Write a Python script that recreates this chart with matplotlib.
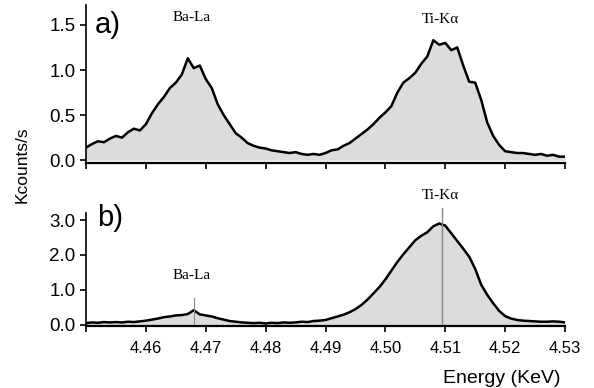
import numpy as np
import matplotlib
matplotlib.use("Agg")
import matplotlib.pyplot as plt

plt.rcParams["font.family"] = ["Liberation Sans", "DejaVu Sans"]

# energy grid (KeV)
energy = [4.450, 4.451, 4.452, 4.453, 4.454, 4.455, 4.456, 4.457, 4.458, 4.459,
          4.460, 4.461, 4.462, 4.463, 4.464, 4.465, 4.466, 4.467, 4.468, 4.469,
          4.470, 4.471, 4.472, 4.473, 4.474, 4.475, 4.476, 4.477, 4.478, 4.479,
          4.480, 4.481, 4.482, 4.483, 4.484, 4.485, 4.486, 4.487, 4.488, 4.489,
          4.490, 4.491, 4.492, 4.493, 4.494, 4.495, 4.496, 4.497, 4.498, 4.499,
          4.500, 4.501, 4.502, 4.503, 4.504, 4.505, 4.506, 4.507, 4.508, 4.509,
          4.510, 4.511, 4.512, 4.513, 4.514, 4.515, 4.516, 4.517, 4.518, 4.519,
          4.520, 4.521, 4.522, 4.523, 4.524, 4.525, 4.526, 4.527, 4.528, 4.529,
          4.530]

# panel a) counts (Kcounts/s)
counts_a = [0.14, 0.18, 0.21, 0.20, 0.24, 0.27, 0.25, 0.31, 0.35, 0.33,
            0.40, 0.52, 0.62, 0.70, 0.80, 0.86, 0.95, 1.13, 1.02, 1.05,
            0.90, 0.80, 0.62, 0.50, 0.40, 0.30, 0.25, 0.19, 0.16, 0.14,
            0.13, 0.11, 0.10, 0.09, 0.08, 0.09, 0.07, 0.06, 0.07, 0.06,
            0.08, 0.11, 0.12, 0.16, 0.19, 0.24, 0.29, 0.34, 0.40, 0.47,
            0.53, 0.60, 0.75, 0.86, 0.91, 0.97, 1.07, 1.15, 1.33, 1.28,
            1.30, 1.22, 1.25, 1.05, 0.87, 0.86, 0.67, 0.42, 0.27, 0.17,
            0.10, 0.09, 0.08, 0.08, 0.07, 0.06, 0.07, 0.05, 0.06, 0.04,
            0.04]

# panel b) counts (Kcounts/s)
counts_b = [0.05, 0.07, 0.06, 0.08, 0.07, 0.08, 0.07, 0.09, 0.08, 0.10,
            0.12, 0.15, 0.18, 0.22, 0.24, 0.27, 0.28, 0.31, 0.42, 0.30,
            0.27, 0.24, 0.19, 0.15, 0.11, 0.09, 0.07, 0.06, 0.05, 0.06,
            0.04, 0.06, 0.05, 0.07, 0.06, 0.07, 0.09, 0.08, 0.11, 0.12,
            0.14, 0.19, 0.24, 0.29, 0.36, 0.45, 0.57, 0.72, 0.90, 1.08,
            1.30, 1.55, 1.80, 2.02, 2.22, 2.42, 2.55, 2.65, 2.82, 2.90,
            2.84, 2.62, 2.40, 2.18, 1.95, 1.60, 1.15, 0.86, 0.62, 0.40,
            0.25, 0.18, 0.14, 0.12, 0.11, 0.10, 0.09, 0.09, 0.10, 0.09,
            0.07]

ba_line = 4.468
ti_line = 4.5095
xticks = [4.45, 4.46, 4.47, 4.48, 4.49, 4.50, 4.51, 4.52, 4.53]

fig = plt.figure(figsize=(5.94, 3.88), dpi=100)
ax1 = fig.add_axes([0.1448, 0.580, 0.8064, 0.407])
ax2 = fig.add_axes([0.1448, 0.160, 0.8064, 0.291])

for ax, y in [(ax1, counts_a), (ax2, counts_b)]:
    ax.fill_between(energy, y, 0, color="#dcdcdc", lw=0)
    ax.plot(energy, y, color="black", lw=1.8)
    ax.spines["top"].set_visible(False)
    ax.spines["right"].set_visible(False)
    ax.spines["left"].set_linewidth(1.2)
    ax.spines["bottom"].set_linewidth(1.6)
    ax.set_xlim(4.45, 4.53)
    ax.set_xticks(xticks)
    ax.tick_params(axis="both", direction="out", length=4, width=1.2)
    ax.tick_params(axis="y", labelsize=13.5)
    ax.tick_params(axis="x", labelsize=12, pad=7)

ax1.set_ylim(-0.03, 1.72)
ax1.set_yticks([0.0, 0.5, 1.0, 1.5])
ax1.set_yticklabels(["0.0", "0.5", "1.0", "1.5"])
ax1.set_xticklabels([])

ax2.set_ylim(-0.03, 3.2)
ax2.set_yticks([0.0, 1.0, 2.0, 3.0])
ax2.set_yticklabels(["0.0", "1.0", "2.0", "3.0"])
ax2.set_xticklabels([""] + ["%.2f" % t for t in xticks[1:]])

ax2.plot([ba_line, ba_line], [0, 0.76], color="#888888", lw=0.8)
ax2.plot([ti_line, ti_line], [0, 3.35], color="#888888", lw=1.0, clip_on=False)

ax1.text(4.4515, 1.5, "a)", fontsize=21, va="center")
ax2.text(4.4518, 3.05, "b)", fontsize=21, va="center")

serif = ["Liberation Serif", "DejaVu Serif"]
ax1.text(4.4676, 1.58, "Ba-La", family=serif, fontsize=11, ha="center", va="center")
ax1.text(4.5092, 1.56, "Ti-K\u03b1", family=serif, fontsize=11, ha="center", va="center")
ax2.text(4.4676, 1.40, "Ba-La", family=serif, fontsize=11, ha="center", va="center")
ax2.text(4.5092, 3.71, "Ti-K\u03b1", family=serif, fontsize=11, ha="center", va="center")

fig.text(0.037, 0.575, "Kcounts/s", rotation=90, fontsize=12.5, ha="center", va="center")
fig.text(0.943, 0.025, "Energy (KeV)", fontsize=14, ha="right", va="center")

fig.savefig("out.png", dpi=100)
